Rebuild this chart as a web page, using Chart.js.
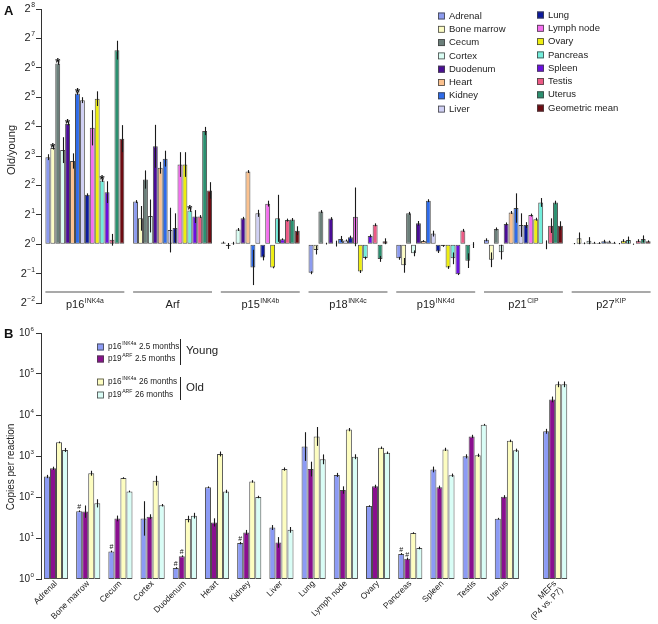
<!DOCTYPE html>
<html>
<head>
<meta charset="utf-8">
<script src="https://cdn.jsdelivr.net/npm/chart.js@4.4.1/dist/chart.umd.min.js"></script>
<style>
  html, body { margin: 0; padding: 0; background: #fff; }
  #wrapA { position: absolute; left: 0; top: 0; }
  #wrapB { position: absolute; left: 0; top: 320px; }
</style>
</head>
<body>
<div id="wrapA"><canvas id="chartA" width="658" height="320"></canvas></div>
<div id="wrapB"><canvas id="chartB" width="658" height="304"></canvas></div>
<script>
// ---------- panel A data (log2 of old/young) ----------
const genes = ["p16", "Arf", "p15", "p18", "p19", "p21", "p27"];
const geneSup = ["INK4a", "", "INK4b", "INK4c", "INK4d", "CIP", "KIP"];
const tissues = ["Adrenal", "Bone marrow", "Cecum", "Cortex", "Duodenum", "Heart", "Kidney", "Liver",
  "Lung", "Lymph node", "Ovary", "Pancreas", "Spleen", "Testis", "Uterus", "Geometric mean"];
const tissueColors = ["#8c9bef", "#fbfbc4", "#6b7f7a", "#d9fdf3", "#4a0d96", "#fbc18e", "#2e6bea", "#d0d0f5",
  "#0c1a9e", "#f56ef0", "#eeee10", "#72eedc", "#6b0fe0", "#ec5a85", "#2b9070", "#6e0b12"];

// one row per tissue, columns follow genes
const foldLog2 = [
  [2.96, 1.45, 0.06, -0.97, -0.48, 0.15, 0.02],   // Adrenal
  [3.27, 0.88, -0.06, -0.2, -0.72, -0.53, 0.2],   // Bone marrow
  [6.15, 2.2, 0.03, 1.11, 1.05, 0.52, 0.03],      // Cecum
  [3.2, 0.96, 0.5, 0.02, -0.31, -0.27, 0.12],     // Cortex
  [4.09, 3.33, 0.88, 0.87, 0.71, 0.69, 0.05],     // Duodenum
  [2.83, 2.6, 2.47, 0.02, 0.11, 1.08, 0.04],      // Heart
  [5.13, 2.91, -0.79, 0.18, 1.48, 1.23, 0.1],     // Kidney
  [4.9, 0.48, 1.05, 0.13, 0.36, 0.65, 0.09],      // Liver
  [1.68, 0.55, -0.45, 0.24, -0.25, 0.65, 0.05],   // Lung
  [3.96, 2.71, 1.38, 0.93, -0.06, 0.99, 0.02],    // Lymph node
  [4.95, 2.71, -0.79, -0.93, -0.79, 0.85, 0.12],  // Ovary
  [2.17, 1.15, 0.88, -0.47, -0.48, 1.42, 0.14],   // Pancreas
  [1.77, 0.94, 0.17, 0.28, -1.02, -0.02, 0.0],    // Spleen
  [0.15, 0.94, 0.82, 0.66, 0.47, 0.63, 0.12],     // Testis
  [6.6, 3.85, 0.84, -0.5, -0.56, 1.42, 0.18],     // Uterus
  [3.59, 1.83, 0.46, 0.1, -0.03, 0.63, 0.1]       // Geometric mean
];
const errLog2 = [
  [0.1, 0.05, 0.03, 0.05, 0.05, 0.05, 0.02],
  [0.05, 0.42, 0.1, 0.15, 0.25, 0.25, 0.2],
  [0.05, 0.31, 0.05, 0.05, 0.05, 0.05, 0.03],
  [0.44, 0.56, 0.05, 0.03, 0.1, 0.25, 0.12],
  [0.05, 0.73, 0.05, 0.05, 0.08, 0.05, 0.03],
  [0.26, 0.2, 0.05, 0.1, 0.03, 0.05, 0.03],
  [0.05, 0.27, 0.6, 0.1, 0.05, 0.5, 0.05],
  [0.1, 0.76, 0.12, 0.03, 0.1, 0.4, 0.03],
  [0.05, 0.5, 0.1, 0.05, 0.05, 0.1, 0.03],
  [0.6, 0.42, 0.1, 1.0, 0.03, 0.05, 0.02],
  [0.25, 0.42, 0.03, 0.05, 0.05, 0.05, 0.05],
  [0.05, 0.05, 0.8, 0.05, 0.2, 0.15, 0.12],
  [0.37, 0.22, 0.03, 0.05, 0.03, 0.15, 0.02],
  [0.2, 0.05, 0.05, 0.05, 0.05, 0.25, 0.05],
  [0.32, 0.14, 0.05, 0.1, 0.25, 0.06, 0.12],
  [0.46, 0.28, 0.15, 0.1, 0.1, 0.15, 0.03]
];
const starred = [["Bone marrow", "p16"], ["Cecum", "p16"], ["Duodenum", "p16"], ["Kidney", "p16"],
  ["Pancreas", "p16"], ["Pancreas", "Arf"]];
const log2Ticks = [-2, -1, 0, 1, 2, 3, 4, 5, 6, 7, 8];

// ---------- panel B data (copies per reaction) ----------
const bTissues = ["Adrenal", "Bone marrow", "Cecum", "Cortex", "Duodenum", "Heart", "Kidney", "Liver", "Lung",
  "Lymph node", "Ovary", "Pancreas", "Spleen", "Testis", "Uterus", ["MEFs", "(P4 vs. P7)"]];
const youngP16 = [316, 45, 4.7, 30, 1.86, 173, 7.5, 18, 1700, 345, 60, 4.1, 470, 980, 29.6, 4000];
const youngP19 = [500, 44, 30, 33, 3.6, 24, 13.7, 7.8, 480, 148, 182, 3.1, 173, 3000, 101, 24000];
const oldP16 = [2150, 380, 290, 250, 29, 1120, 240, 480, 3000, 4400, 1590, 13.2, 1450, 1040, 2340, 56000];
const oldP19 = [1400, 70, 137, 63, 35, 137, 100, 15.8, 830, 960, 1200, 5.7, 340, 5800, 1380, 56000];
// error half-widths in log10 units
const errYoungP16 = [0.04, 0.02, 0.02, 0.42, 0.02, 0.02, 0.03, 0.06, 0.35, 0.05, 0.02, 0.02, 0.07, 0.05, 0.02, 0.06];
const errYoungP19 = [0.04, 0.15, 0.07, 0.06, 0.02, 0.1, 0.06, 0.13, 0.18, 0.09, 0.04, 0.03, 0.04, 0.04, 0.04, 0.07];
const errOldP16 = [0.02, 0.06, 0.02, 0.12, 0.08, 0.06, 0.03, 0.04, 0.23, 0.04, 0.03, 0.02, 0.04, 0.04, 0.03, 0.07];
const errOldP19 = [0.05, 0.1, 0.02, 0.03, 0.07, 0.04, 0.03, 0.07, 0.12, 0.06, 0.03, 0.03, 0.04, 0.02, 0.04, 0.07];
const hashYoungP16 = ["Bone marrow", "Cecum", "Duodenum", "Kidney", "Pancreas"];
const hashYoungP19 = ["Duodenum", "Pancreas"];
const log10Ticks = [0, 1, 2, 3, 4, 5, 6];

const FONT = '"Liberation Sans", Arial, Helvetica, sans-serif';
Chart.defaults.font.family = FONT;
Chart.defaults.color = "#222";

// text with a raised small part, e.g. 2^8 or p16^INK4a; returns width
function supText(ctx, x, y, base, sup, size, align) {
  ctx.textBaseline = "middle";
  ctx.textAlign = "left";
  ctx.font = size + "px " + FONT;
  const wb = ctx.measureText(base).width;
  const supSize = Math.round(size * 0.62 * 10) / 10;
  ctx.font = supSize + "px " + FONT;
  const ws = sup ? ctx.measureText(sup).width + 0.5 : 0;
  let x0 = x;
  if (align === "right") x0 = x - wb - ws;
  if (align === "center") x0 = x - (wb + ws) / 2;
  ctx.font = size + "px " + FONT;
  ctx.fillText(base, x0, y);
  if (sup) {
    ctx.font = supSize + "px " + FONT;
    ctx.fillText(sup, x0 + wb + 0.5, y - size * 0.36);
  }
  return wb + ws;
}

function vTitle(ctx, x, y, text, size) {
  ctx.save();
  ctx.translate(x, y);
  ctx.rotate(-Math.PI / 2);
  ctx.font = size + "px " + FONT;
  ctx.textAlign = "center";
  ctx.textBaseline = "middle";
  ctx.fillStyle = "#222";
  ctx.fillText(text, 0, 0);
  ctx.restore();
}

function swatch(ctx, x, yMid, color) {
  ctx.fillStyle = color;
  ctx.fillRect(x, yMid - 3.5, 7, 7);
  ctx.strokeStyle = "#444";
  ctx.lineWidth = 0.8;
  ctx.strokeRect(x + 0.5, yMid - 3, 6, 6);
}

// vertical error lines, no caps
const errorBars = {
  id: "errorBars",
  afterDatasetsDraw(chart) {
    const ctx = chart.ctx;
    const y = chart.scales.y;
    ctx.save();
    ctx.strokeStyle = "#1a1a1a";
    ctx.lineWidth = 1.1;
    chart.data.datasets.forEach((ds, di) => {
      const meta = chart.getDatasetMeta(di);
      meta.data.forEach((bar, i) => {
        const top = y.getPixelForValue(ds.errTop[i]);
        const bot = y.getPixelForValue(ds.errBot[i]);
        ctx.beginPath();
        ctx.moveTo(Math.round(bar.x) + 0.5, top);
        ctx.lineTo(Math.round(bar.x) + 0.5, bot);
        ctx.stroke();
      });
    });
    ctx.restore();
  }
};

const panelA = {
  id: "panelA",
  afterDraw(chart) {
    const ctx = chart.ctx;
    const y = chart.scales.y;
    const area = chart.chartArea;
    ctx.save();
    ctx.fillStyle = "#222";
    log2Ticks.forEach(v => {
      supText(ctx, 35, y.getPixelForValue(v), "2", v < 0 ? "\u2212" + (-v) : String(v), 11, "right");
    });
    vTitle(ctx, 12, 150, "Old/young", 11);

    // group lines and gene names
    const first = chart.getDatasetMeta(0);
    const last = chart.getDatasetMeta(tissues.length - 1);
    genes.forEach((g, gi) => {
      const b0 = first.data[gi], b1 = last.data[gi];
      const x0 = b0.x - b0.width / 2, x1 = b1.x + b1.width / 2;
      ctx.strokeStyle = "#555";
      ctx.lineWidth = 1.2;
      ctx.beginPath();
      ctx.moveTo(x0, area.bottom - 11);
      ctx.lineTo(x1, area.bottom - 11);
      ctx.stroke();
      ctx.fillStyle = "#222";
      supText(ctx, (x0 + x1) / 2, area.bottom + 2, g, geneSup[gi], 11, "center");
    });

    // significance stars
    ctx.font = "bold 13px " + FONT;
    ctx.textAlign = "center";
    ctx.textBaseline = "alphabetic";
    ctx.fillStyle = "#111";
    starred.forEach(([t, g]) => {
      const bar = chart.getDatasetMeta(tissues.indexOf(t)).data[genes.indexOf(g)];
      ctx.fillText("*", bar.x, bar.y + 4);
    });

    // legend, two columns
    tissues.forEach((t, i) => {
      const col = i < 8 ? 0 : 1;
      const row = i % 8;
      const sx = col ? 537 : 438;
      const sy = (col ? 15 : 16) + row * 13.3;
      swatch(ctx, sx, sy, tissueColors[i]);
      ctx.fillStyle = "#222";
      ctx.font = "9.5px " + FONT;
      ctx.textAlign = "left";
      ctx.textBaseline = "middle";
      ctx.fillText(t, sx + 11, sy);
    });

    ctx.font = "bold 13px " + FONT;
    ctx.textAlign = "left";
    ctx.textBaseline = "alphabetic";
    ctx.fillStyle = "#111";
    ctx.fillText("A", 4, 15);
    ctx.restore();
  }
};

new Chart(document.getElementById("chartA"), {
  type: "bar",
  data: {
    labels: genes,
    datasets: tissues.map((t, i) => ({
      label: t,
      data: foldLog2[i],
      errTop: foldLog2[i].map((v, j) => v + errLog2[i][j]),
      errBot: foldLog2[i].map((v, j) => v - errLog2[i][j]),
      backgroundColor: tissueColors[i],
      borderColor: "#4d4d4d",
      borderWidth: 1,
      borderSkipped: false
    }))
  },
  options: {
    responsive: false,
    animation: false,
    events: [],
    layout: { padding: { top: 7, bottom: 17, right: 3, left: 0 } },
    datasets: { bar: { categoryPercentage: 0.9, barPercentage: 1 } },
    plugins: { legend: { display: false }, tooltip: { enabled: false } },
    scales: {
      x: { display: false },
      y: {
        min: -2,
        max: 8,
        afterBuildTicks(s) { s.ticks = log2Ticks.map(v => ({ value: v })); },
        afterFit(s) { s.width = 41; },
        ticks: { font: { size: 10 }, callback: () => "" },
        grid: { drawOnChartArea: false, tickLength: 5, color: "#333" },
        border: { color: "#333", width: 1 }
      }
    }
  },
  plugins: [errorBars, panelA]
});

// ---------- panel B ----------
const mefGap = 0.5;
const bPos = bTissues.map((t, i) => (i < bTissues.length - 1 ? i : i + mefGap));
const bSeries = [
  { label: ["p16", "INK4a", " 2.5 months"], vals: youngP16, err: errYoungP16, color: "#8c9bf5" },
  { label: ["p19", "ARF", " 2.5 months"], vals: youngP19, err: errYoungP19, color: "#8a0f8f" },
  { label: ["p16", "INK4a", " 26 months"], vals: oldP16, err: errOldP16, color: "#fdfdc0" },
  { label: ["p19", "ARF", " 26 months"], vals: oldP19, err: errOldP19, color: "#d9fdf6" }
];

const panelB = {
  id: "panelB",
  afterDraw(chart) {
    const ctx = chart.ctx;
    const y = chart.scales.y;
    ctx.save();
    ctx.fillStyle = "#222";
    log10Ticks.forEach(k => {
      supText(ctx, 34, y.getPixelForValue(Math.pow(10, k)), "10", String(k), 10, "right");
    });
    vTitle(ctx, 11, 147, "Copies per reaction", 10);

    // "#" marks
    ctx.font = "7px " + FONT;
    ctx.textAlign = "center";
    ctx.textBaseline = "alphabetic";
    ctx.fillStyle = "#111";
    [[0, hashYoungP16], [1, hashYoungP19]].forEach(([di, list]) => {
      const meta = chart.getDatasetMeta(di);
      list.forEach(t => {
        const bar = meta.data[bTissues.indexOf(t)];
        ctx.fillText("#", bar.x, bar.y - 2);
      });
    });

    // legend
    const rows = [27, 39, 62, 75];
    bSeries.forEach((s, i) => {
      swatch(ctx, 97, rows[i], s.color);
      ctx.fillStyle = "#222";
      const [a, sup, rest] = s.label;
      const w = supText(ctx, 108, rows[i], a, sup, 8.2, "left");
      ctx.font = "8.2px " + FONT;
      ctx.textAlign = "left";
      ctx.fillText(rest, 108 + w + 0.3, rows[i]);
    });
    ctx.strokeStyle = "#222";
    ctx.lineWidth = 1;
    ctx.beginPath();
    ctx.moveTo(180.5, 19); ctx.lineTo(180.5, 45);
    ctx.moveTo(180.5, 57); ctx.lineTo(180.5, 80);
    ctx.stroke();
    ctx.font = "11.5px " + FONT;
    ctx.textBaseline = "middle";
    ctx.fillText("Young", 186, 31);
    ctx.fillText("Old", 186, 68);

    ctx.font = "bold 13px " + FONT;
    ctx.textBaseline = "alphabetic";
    ctx.fillStyle = "#111";
    ctx.fillText("B", 4, 18);
    ctx.restore();
  }
};

new Chart(document.getElementById("chartB"), {
  type: "bar",
  data: {
    datasets: bSeries.map(s => ({
      label: s.label.join(""),
      data: s.vals.map((v, i) => ({ x: bPos[i], y: v })),
      errTop: s.vals.map((v, i) => v * Math.pow(10, s.err[i])),
      errBot: s.vals.map((v, i) => v / Math.pow(10, s.err[i])),
      backgroundColor: s.color,
      borderColor: "#4d4d4d",
      borderWidth: 1,
      borderSkipped: false
    }))
  },
  options: {
    responsive: false,
    animation: false,
    events: [],
    layout: { padding: { top: 13, bottom: 0, right: 3, left: 0 } },
    datasets: { bar: { categoryPercentage: 0.75, barPercentage: 1 } },
    plugins: { legend: { display: false }, tooltip: { enabled: false } },
    scales: {
      x: {
        type: "linear",
        min: -0.466,
        max: 18.6,
        offset: false,
        afterBuildTicks(s) { s.ticks = bPos.map(v => ({ value: v })); },
        afterFit(s) { s.height = 45; },
        ticks: {
          autoSkip: false,
          minRotation: 45,
          maxRotation: 45,
          padding: 0,
          font: { size: 8.5, lineHeight: 1.1 },
          color: "#222",
          callback: (v, i) => bTissues[i]
        },
        grid: { display: false, drawTicks: false },
        border: { display: false }
      },
      y: {
        type: "logarithmic",
        min: 1,
        max: 1e6,
        afterBuildTicks(s) { s.ticks = log10Ticks.map(k => ({ value: Math.pow(10, k) })); },
        afterFit(s) { s.width = 41; },
        ticks: { font: { size: 10 }, callback: () => "" },
        grid: { drawOnChartArea: false, tickLength: 5, color: "#333" },
        border: { color: "#333", width: 1 }
      }
    }
  },
  plugins: [errorBars, panelB]
});
</script>
</body>
</html>
